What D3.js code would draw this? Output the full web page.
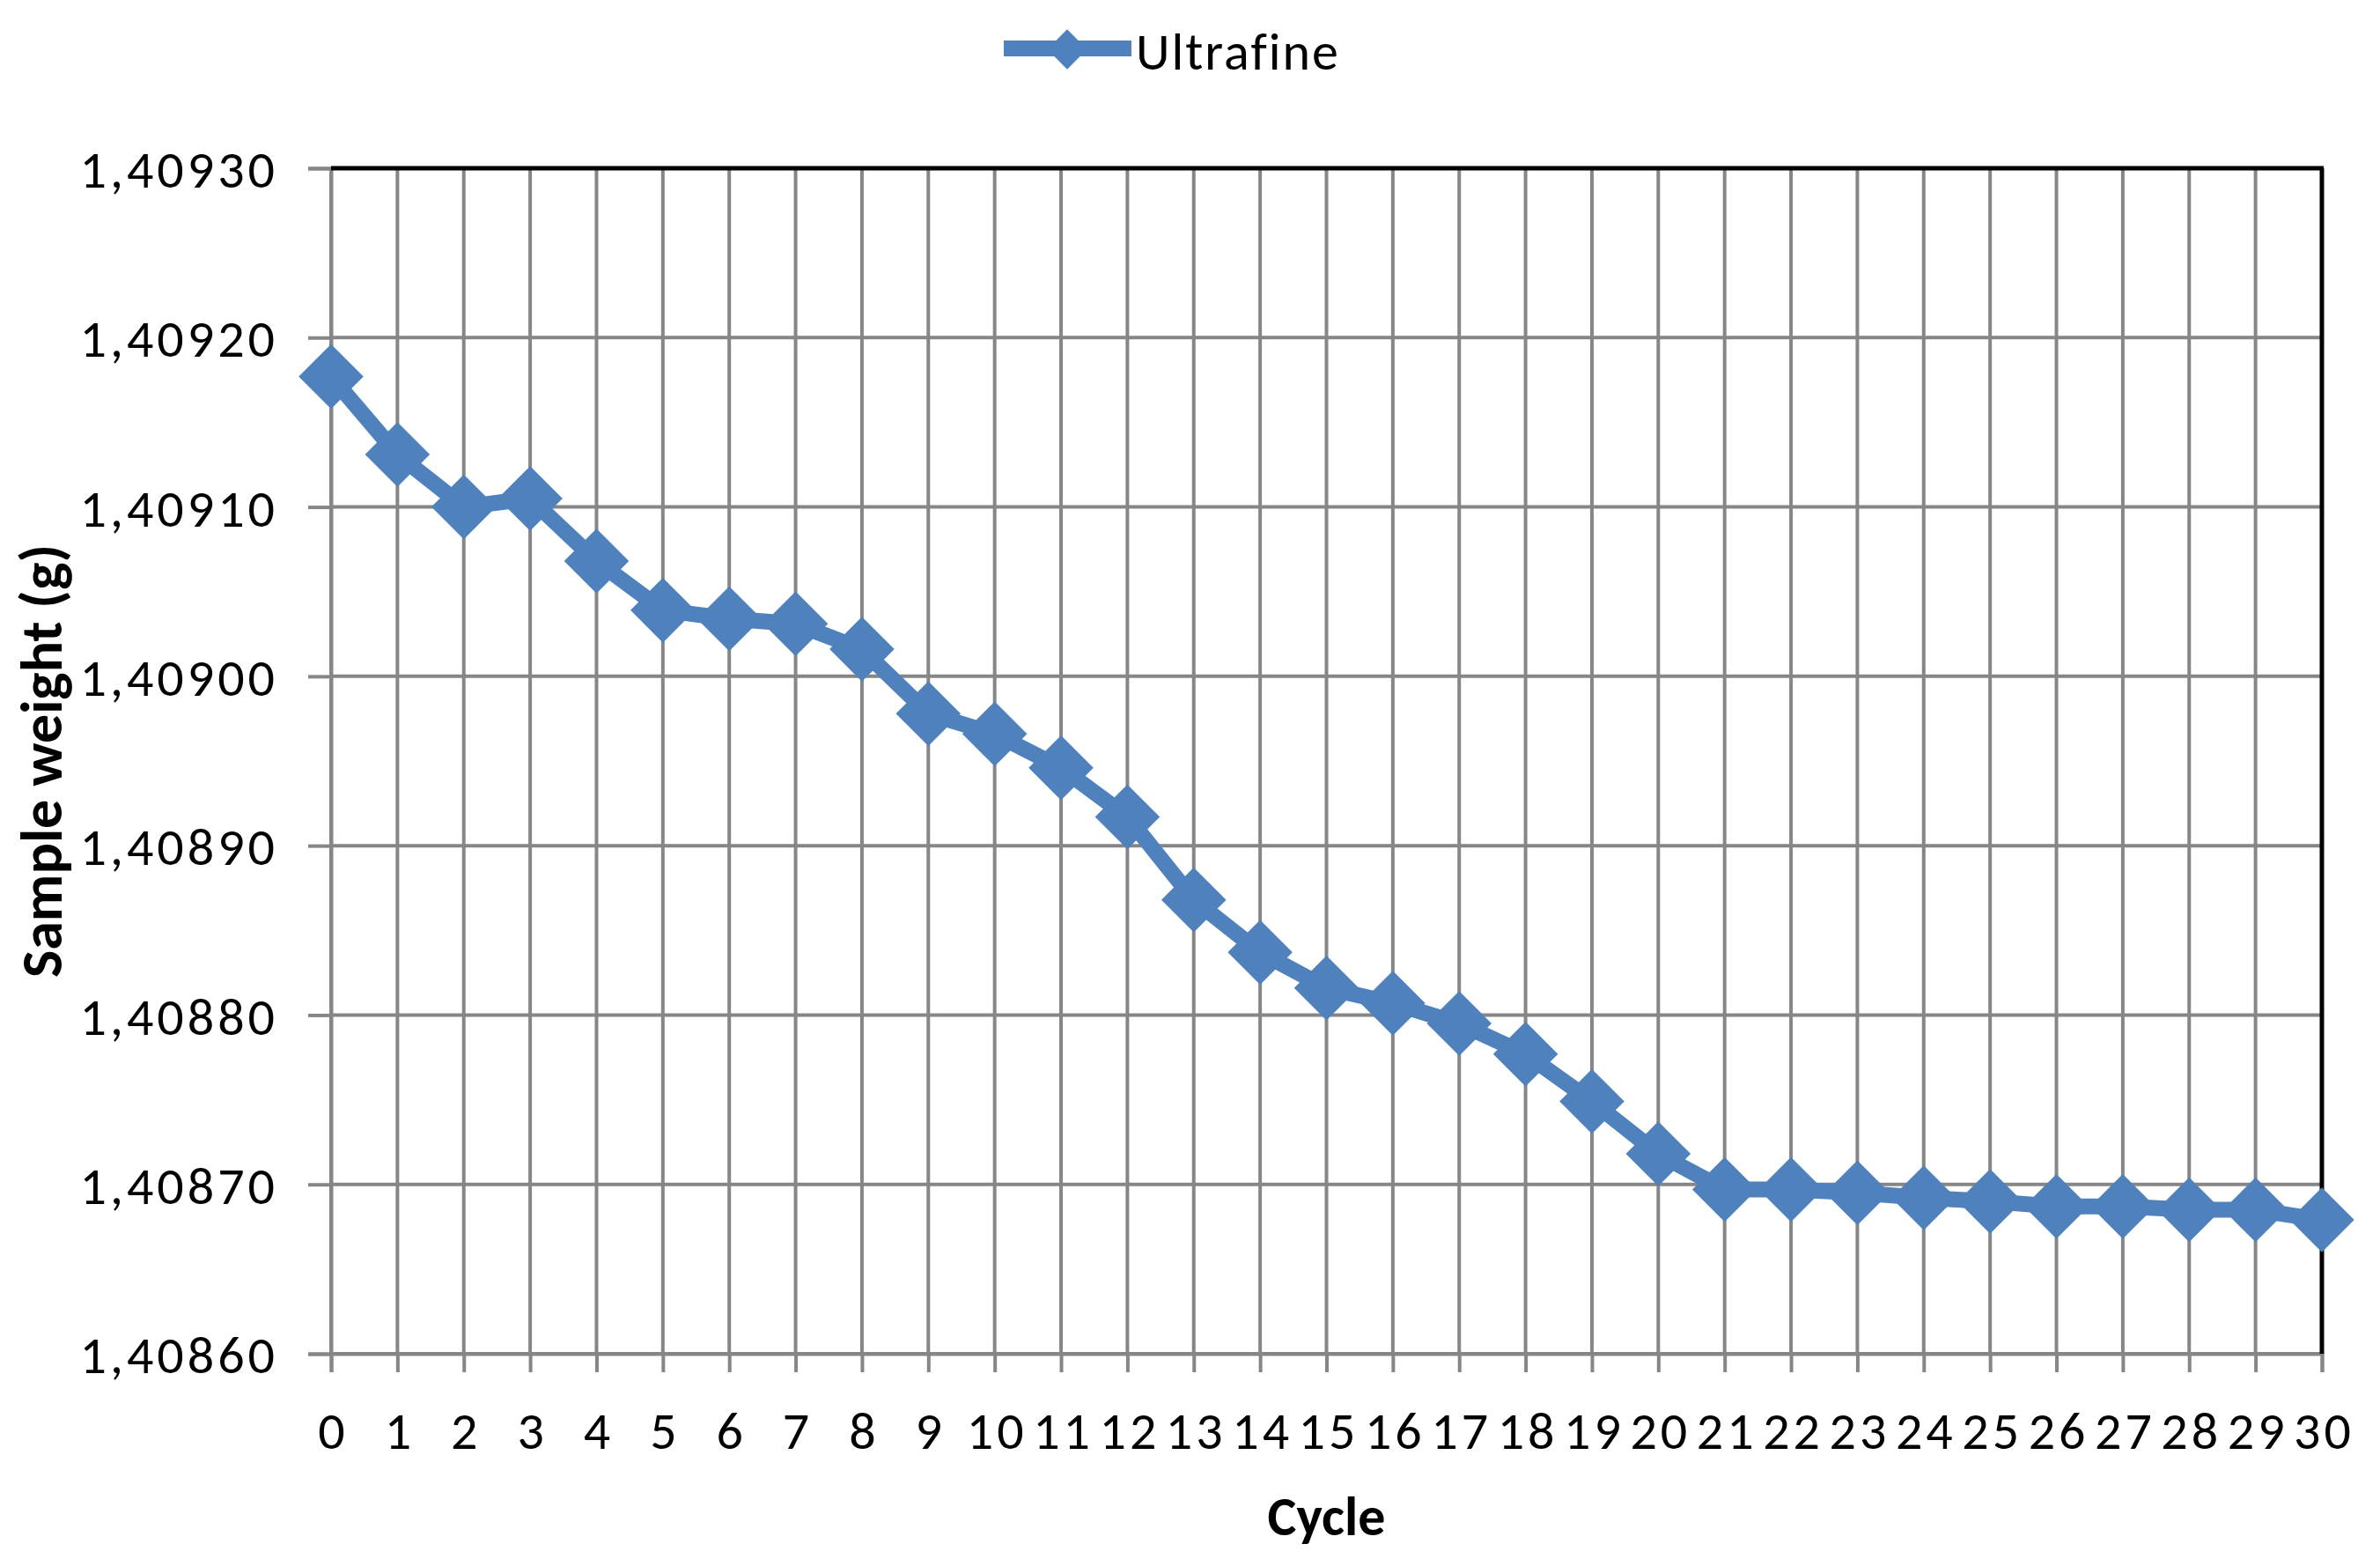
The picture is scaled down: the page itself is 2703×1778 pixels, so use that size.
<!DOCTYPE html>
<html>
<head>
<meta charset="utf-8">
<script src="https://cdn.jsdelivr.net/npm/d3@7"></script>
<style>
  html, body { margin: 0; padding: 0; background: #ffffff; }
  svg { display: block; }
  text { font-family: Carlito, Calibri, Lato, "Open Sans", sans-serif; fill: #000; }
</style>
</head>
<body>
<svg id="chart" width="2703" height="1778"></svg>
<script>
// ---- data ----
const seriesName = "Ultrafine";
const cycles = [0,1,2,3,4,5,6,7,8,9,10,11,12,13,14,15,16,17,18,19,20,21,22,23,24,25,26,27,28,29,30];
const weights = [
  1.409177, 1.409131, 1.409100, 1.409105, 1.409068, 1.409039, 1.409034, 1.409031,
  1.409016, 1.408978, 1.408966, 1.408946, 1.408917, 1.408868, 1.408837, 1.408816,
  1.408807, 1.408795, 1.408777, 1.408749, 1.408718, 1.408697, 1.408697, 1.408695,
  1.408692, 1.408690, 1.408687, 1.408687, 1.408685, 1.408685, 1.408679
];
const yTickValues = [1.4086, 1.4087, 1.4088, 1.4089, 1.4090, 1.4091, 1.4092, 1.4093];
const yTickLabels = ["1,40860", "1,40870", "1,40880", "1,40890", "1,40900", "1,40910", "1,40920", "1,40930"];
const xTitle = "Cycle";
const yTitle = "Sample weight (g)";

// ---- layout ----
const plot = { left: 376, right: 2637, top: 191, bottom: 1537 };
const blue = "#4F81BD";
const grid = "#868686";

const svg = d3.select("#chart");

const x = d3.scaleLinear().domain([cycles[0], cycles[cycles.length - 1]]).range([plot.left, plot.right]);
const y = d3.scaleLinear().domain([yTickValues[0], yTickValues[yTickValues.length - 1]]).range([plot.bottom, plot.top]);

// gridlines
const gGrid = svg.append("g");
gGrid.selectAll("line.v").data(cycles).join("line")
  .attr("x1", d => x(d)).attr("x2", d => x(d))
  .attr("y1", plot.top).attr("y2", plot.bottom)
  .attr("stroke", grid).attr("stroke-width", 4);
gGrid.selectAll("line.h").data(yTickValues).join("line")
  .attr("x1", plot.left).attr("x2", plot.right)
  .attr("y1", d => y(d)).attr("y2", d => y(d))
  .attr("stroke", grid).attr("stroke-width", 4);

// y axis
const yAxis = d3.axisLeft(y)
  .tickValues(yTickValues)
  .tickFormat((d, i) => yTickLabels[i])
  .tickSize(26)
  .tickPadding(34);
const gy = svg.append("g").attr("transform", `translate(${plot.left},0)`).call(yAxis);
gy.select(".domain").attr("stroke", grid).attr("stroke-width", 4);
gy.selectAll(".tick line").attr("stroke", grid).attr("stroke-width", 4);
gy.selectAll(".tick text")
  .style("font-family", "Carlito, Calibri, Lato, sans-serif")
  .style("letter-spacing", "4px")
  .attr("font-size", 60).attr("fill", "#000").attr("dy", "0.36em");

// x axis
const xAxis = d3.axisBottom(x)
  .tickValues(cycles)
  .tickFormat(d3.format("d"))
  .tickSize(21)
  .tickPadding(87);
const gx = svg.append("g").attr("transform", `translate(0,${plot.bottom})`).call(xAxis);
gx.select(".domain").attr("stroke", grid).attr("stroke-width", 4);
gx.selectAll(".tick line").attr("stroke", grid).attr("stroke-width", 4);
gx.selectAll(".tick text")
  .style("font-family", "Carlito, Calibri, Lato, sans-serif")
  .style("letter-spacing", "4px")
  .attr("font-size", 60).attr("fill", "#000").attr("dy", "0").attr("dx", "2");

// top and right border (black)
svg.append("line").attr("x1", plot.left).attr("x2", plot.right + 2)
  .attr("y1", plot.top).attr("y2", plot.top)
  .attr("stroke", "#000").attr("stroke-width", 5);
svg.append("line").attr("x1", plot.right).attr("x2", plot.right)
  .attr("y1", plot.top).attr("y2", plot.bottom)
  .attr("stroke", "#000").attr("stroke-width", 5);

// series line
const pts = cycles.map((c, i) => [c, weights[i]]);
svg.append("path")
  .datum(pts)
  .attr("fill", "none")
  .attr("stroke", blue)
  .attr("stroke-width", 18)
  .attr("stroke-linejoin", "round")
  .attr("d", d3.line().x(d => x(d[0])).y(d => y(d[1])));

// markers (diamonds)
const diamond = d3.symbol().type(d3.symbolSquare).size(52 * 52);
svg.append("g").selectAll("path").data(pts).join("path")
  .attr("d", diamond)
  .attr("transform", d => `translate(${x(d[0])},${y(d[1])}) rotate(45)`)
  .attr("fill", blue);

// legend
const lg = svg.append("g");
lg.append("line").attr("x1", 1140).attr("x2", 1285).attr("y1", 55).attr("y2", 55)
  .attr("stroke", blue).attr("stroke-width", 18);
lg.append("path").attr("d", d3.symbol().type(d3.symbolSquare).size(32 * 32)())
  .attr("transform", "translate(1212,56) rotate(45)").attr("fill", blue);
lg.append("text").attr("x", 1290).attr("y", 79).attr("font-size", 60)
  .style("letter-spacing", "2px").text(seriesName);

// axis titles
svg.append("text")
  .attr("x", (plot.left + plot.right) / 2).attr("y", 1743)
  .attr("text-anchor", "middle").attr("font-size", 62).attr("font-weight", "bold")
  .text(xTitle);
svg.append("text")
  .attr("transform", `translate(70,${(plot.top + plot.bottom) / 2}) rotate(-90)`)
  .attr("text-anchor", "middle").attr("font-size", 66).attr("font-weight", "bold")
  .text(yTitle);
</script>
</body>
</html>
